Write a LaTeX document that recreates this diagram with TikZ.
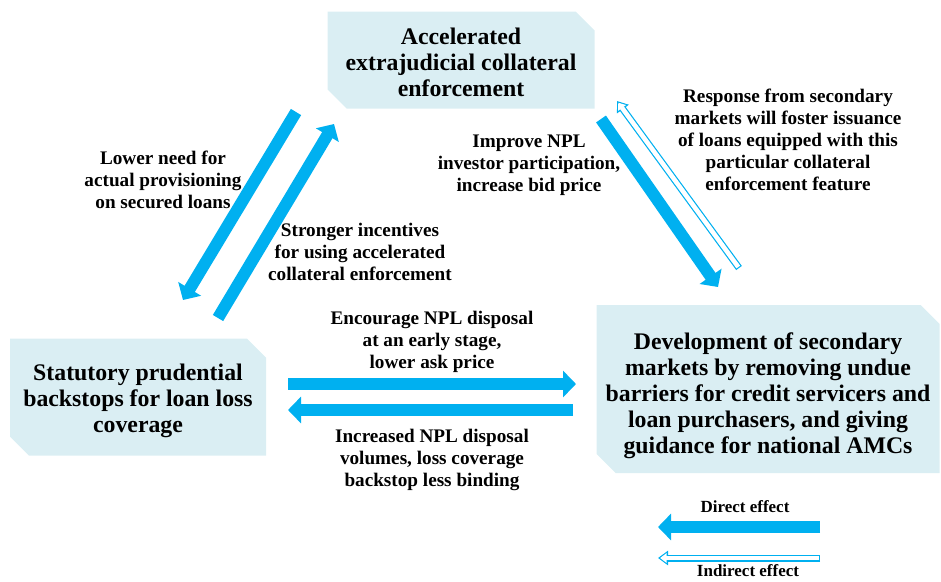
\documentclass[tikz,border=0pt]{standalone}
\usepackage{fontspec}
\setmainfont{Liberation Serif}
\usepackage{xcolor}
\usetikzlibrary{arrows.meta}
\usetikzlibrary{positioning}

\definecolor{effblue}{RGB}{0,176,240}
\definecolor{boxblue}{RGB}{218,238,243}

\tikzset{
  chambox/.style={rectangle, inner sep=0pt, align=center,
    font=\fontsize{23.8}{26}\selectfont\bfseries,
    path picture={
      \fill[boxblue] (path picture bounding box.north west)
        -- ([xshift=-19pt]path picture bounding box.north east)
        -- ([yshift=-19pt]path picture bounding box.north east)
        -- (path picture bounding box.south east)
        -- ([xshift=19pt]path picture bounding box.south west)
        -- ([yshift=19pt]path picture bounding box.south west) -- cycle;
    }},
  lbl/.style={align=center, font=\fontsize{19.2}{22}\selectfont\bfseries},
  legend/.style={font=\fontsize{17}{19}\selectfont\bfseries},
  direct/.style={draw=effblue, line width=12pt, -{Triangle[length=13pt,width=26pt]}},
  indirect/.style={draw=white, line width=4.6pt, -{Triangle[length=6.5pt,width=9.4pt]},
    shorten >=2.1pt, shorten <=1.2pt,
    preaction={draw=effblue, line width=7pt, -{Triangle[length=10pt,width=14pt]},
      shorten >=0pt, shorten <=0pt}},
}

\begin{document}
\begin{tikzpicture}[x=1pt, y=-1pt]
\useasboundingbox (0,0) rectangle (941,581);

%Boxes
\node[chambox, minimum width=267pt, minimum height=97pt] (accel) at (461,60)
  {\rule{0pt}{22pt}Accelerated\\extrajudicial collateral\\enforcement};
\node[chambox, minimum width=256pt, minimum height=117pt] (backstop) at (138,397)
  {\rule{0pt}{24pt}Statutory prudential\\backstops for loan loss\\coverage};
\node[chambox, minimum width=343pt, minimum height=168pt] (market) at (768,389)
  {\rule{0pt}{31pt}Development of secondary\\markets by removing undue\\barriers for credit servicers and\\loan purchasers, and giving\\guidance for national AMCs};

%Arrow ends
\coordinate (lowA) at (296,112);
\coordinate (lowB) at (183,300);
\coordinate (strA) at (218,318);
\coordinate (strB) at (334,124);
\coordinate (impA) at (601,119);
\coordinate (impB) at (718,287);
\coordinate (resA) at (739,268);
\coordinate (resB) at (617,101);
\coordinate (encA) at (288,384);
\coordinate (encB) at (576,384);
\coordinate (incA) at (573,410);
\coordinate (incB) at (288,410);

%Effects
\draw[direct] (lowA) -- (lowB);
\draw[direct] (strA) -- (strB);
\draw[direct] (impA) -- (impB);
\draw[indirect] (resA) -- (resB);
\draw[direct] (encA) -- (encB);
\draw[direct] (incA) -- (incB);

%Labels
\node[lbl] (lowlbl) at (163,180) {Lower need for\\actual provisioning\\on secured loans};
\node[lbl] (strlbl) at (360,252) {Stronger incentives\\for using accelerated\\collateral enforcement};
\node[lbl] (implbl) at (529,165) {Improve NPL\\investor participation,\\increase bid price};
\node[lbl] (reslbl) at (788,140) {Response from secondary\\markets will foster issuance\\of loans equipped with this\\particular collateral\\enforcement feature};
\node[lbl] (enclbl) at (432,342) {Encourage NPL disposal\\at an early stage,\\lower ask price};
\node[lbl] (inclbl) at (432,460) {Increased NPL disposal\\volumes, loss coverage\\backstop less binding};

%Legend
\coordinate (dirA) at (820,527);
\coordinate (dirB) at (658,527);
\coordinate (indA) at (820,558);
\coordinate (indB) at (658,558);
\draw[direct] (dirA) -- (dirB);
\draw[indirect] (indA) -- (indB);
\node[legend] (dirlbl) at (745,507) {Direct effect};
\node[legend] (indlbl) at (748,571) {Indirect effect};
\end{tikzpicture}
\end{document}
